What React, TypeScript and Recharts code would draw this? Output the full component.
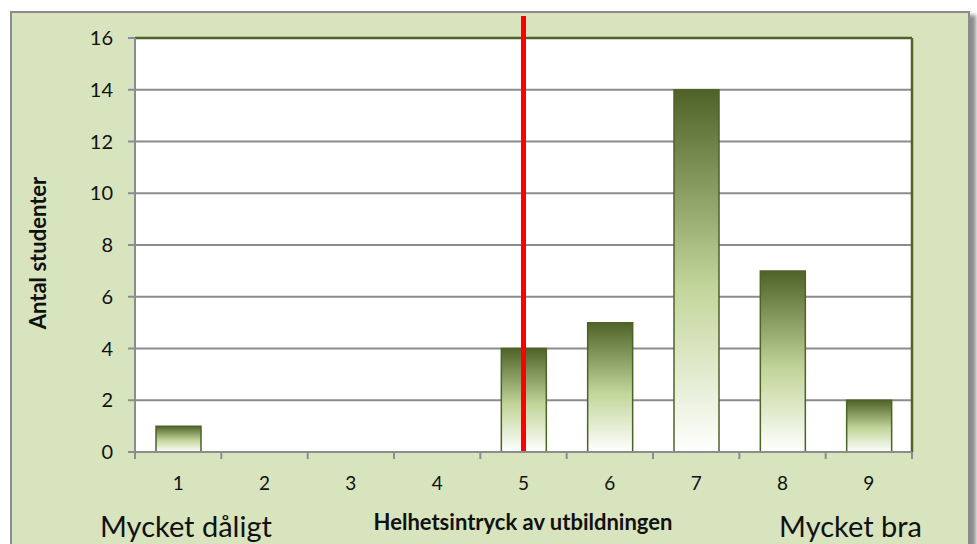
import React from 'react';
import { BarChart, Bar, XAxis, YAxis, CartesianGrid, ReferenceLine } from 'recharts';

const categories = ['1', '2', '3', '4', '5', '6', '7', '8', '9'];
const counts = [1, 0, 0, 0, 4, 5, 14, 7, 2];
const yTicks = [0, 2, 4, 6, 8, 10, 12, 14, 16];
const markerCategory = '5';
const leftLabel = 'Mycket dåligt';
const rightLabel = 'Mycket bra';
const xTitle = 'Helhetsintryck av utbildningen';
const yTitle = 'Antal studenter';

const data = categories.map((c, i) => ({ cat: c, value: counts[i] }));

const FONT = 'Lato, "Open Sans", sans-serif';
const GRAY = '#8c8c8c';
const DARK = '#4f6228';
const PLOT_LEFT = 135;
const PLOT_RIGHT = 912;
const BAND = (PLOT_RIGHT - PLOT_LEFT) / categories.length;

const XTick = (props: any) => {
  const { x, y, payload, index } = props;
  return (
    <g>
      <line x1={x - BAND / 2} x2={x - BAND / 2} y1={y} y2={y + 7} stroke={GRAY} strokeWidth={2} />
      {index === categories.length - 1 && (
        <line x1={x + BAND / 2} x2={x + BAND / 2} y1={y} y2={y + 7} stroke={GRAY} strokeWidth={2} />
      )}
      <text x={x} y={y + 38} textAnchor="middle" fill="#111" fontSize={19} fontFamily={FONT}>
        {payload.value}
      </text>
    </g>
  );
};

export default function App() {
  return (
    <div style={{ position: 'fixed', left: 0, top: 0, width: 977, height: 544, background: '#fff', overflow: 'hidden' }}>
      <div
        style={{
          position: 'absolute',
          left: 10,
          top: 11,
          width: 956,
          height: 540,
          border: `2px solid ${GRAY}`,
          background: '#d7e4bd',
          boxShadow: '6px 4px 4px rgba(0,0,0,0.45)',
        }}
      />
      <div style={{ position: 'absolute', left: 0, top: 0 }}>
        <BarChart
          width={977}
          height={544}
          data={data}
          margin={{ top: 38, right: 977 - PLOT_RIGHT, left: PLOT_LEFT - 60, bottom: 544 - 452 - 30 }}
        >
          <defs>
            <linearGradient id="barGrad" x1="0" y1="0" x2="0" y2="1">
              <stop offset="0%" stopColor="#4f6228" />
              <stop offset="55%" stopColor="#c3d69b" />
              <stop offset="100%" stopColor="#ffffff" />
            </linearGradient>
          </defs>
          <CartesianGrid vertical={false} stroke={GRAY} strokeWidth={2} fill="#ffffff" />
          <CartesianGrid
            stroke={DARK}
            strokeWidth={2.5}
            horizontalCoordinatesGenerator={(p: any) => [p.offset.top]}
            verticalCoordinatesGenerator={(p: any) => [p.offset.left + p.offset.width]}
          />
          <XAxis
            dataKey="cat"
            axisLine={{ stroke: GRAY, strokeWidth: 2 }}
            tickLine={false}
            tickSize={0}
            tickMargin={0}
            height={30}
            interval={0}
            tick={<XTick />}
          />
          <YAxis
            domain={[0, 16]}
            ticks={yTicks}
            interval={0}
            width={60}
            axisLine={{ stroke: GRAY, strokeWidth: 2 }}
            tickLine={{ stroke: GRAY, strokeWidth: 2 }}
            tickSize={7}
            tickMargin={15}
            tick={{ fill: '#111', fontSize: 20, fontFamily: FONT }}
          />
          <Bar dataKey="value" fill="url(#barGrad)" stroke={DARK} strokeWidth={1.5} barSize={45} isAnimationActive={false} />
          <ReferenceLine
            segment={[{ x: markerCategory, y: 0 }, { x: markerCategory, y: 16.85 }]}
            stroke="#ff0000"
            strokeWidth={5}
            ifOverflow="visible"
          />
        </BarChart>
      </div>
      <div style={{ position: 'absolute', left: 100, top: 508, fontFamily: FONT, fontSize: 29, color: '#111', lineHeight: '36px', whiteSpace: 'nowrap' }}>
        {leftLabel}
      </div>
      <div style={{ position: 'absolute', right: 977 - 922, top: 508, fontFamily: FONT, fontSize: 29, color: '#111', lineHeight: '36px', whiteSpace: 'nowrap' }}>
        {rightLabel}
      </div>
      <div style={{ position: 'absolute', left: 523, top: 521, transform: 'translate(-50%, -50%)', fontFamily: FONT, fontSize: 22, fontWeight: 700, color: '#111', whiteSpace: 'nowrap' }}>
        {xTitle}
      </div>
      <div style={{ position: 'absolute', left: 37, top: 253, transform: 'translate(-50%, -50%) rotate(-90deg)', fontFamily: FONT, fontSize: 22, fontWeight: 700, color: '#111', whiteSpace: 'nowrap' }}>
        {yTitle}
      </div>
    </div>
  );
}
